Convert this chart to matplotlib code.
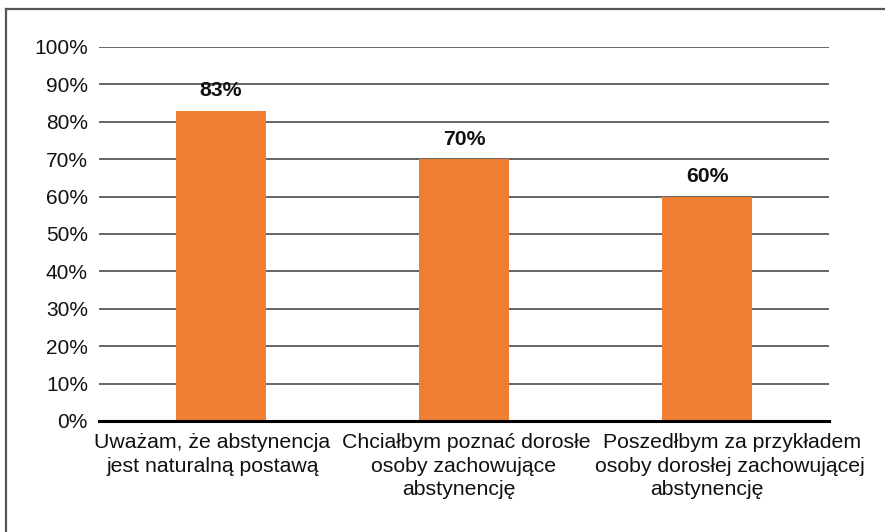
import matplotlib
matplotlib.use("Agg")
import matplotlib.pyplot as plt
from matplotlib.lines import Line2D
from matplotlib.ticker import FuncFormatter, MultipleLocator
from matplotlib.transforms import blended_transform_factory, offset_copy

categories = [
    ["Uważam, że abstynencja", "jest naturalną postawą"],
    ["Chciałbym poznać dorosłe", "osoby zachowujące", "abstynencję"],
    ["Poszedłbym za przykładem", "osoby dorosłej zachowującej", "abstynencję"],
]
values = [83, 70, 60]
value_labels = ["83%", "70%", "60%"]

plt.rcParams["font.family"] = ["Liberation Sans", "DejaVu Sans"]

fig = plt.figure(figsize=(8.85, 5.32), dpi=100)
ax = fig.add_axes([99 / 885, 1 - 421 / 532, 730 / 885, 374 / 532])

x = list(range(len(categories)))
bars = ax.bar(x, values, width=0.37, color="#EE7F33", zorder=3)

ax.set_xlim(-0.5, len(categories) - 0.5)
ax.set_ylim(0, 100)
ax.yaxis.set_major_locator(MultipleLocator(10))
ax.yaxis.set_major_formatter(FuncFormatter(lambda v, p: f"{int(round(v))}%"))
ax.grid(axis="y", color="#3a3a3a", linewidth=1.1, zorder=0)
ax.set_axisbelow(True)

for s in ["top", "right", "left"]:
    ax.spines[s].set_visible(False)
ax.spines["bottom"].set_color("black")
ax.spines["bottom"].set_linewidth(2.2)
ax.spines["bottom"].set_zorder(4)

ax.set_xticks(x)
ax.set_xticklabels([])
ax.tick_params(axis="x", length=0)
ax.tick_params(axis="y", length=0, pad=8, labelsize=15, labelcolor="#111111")

# wrapped category labels, one text per line, nudged sideways like the
# word-wrapped axis labels of a spreadsheet chart
line_shift_px = [[-9, -8], [2, 0, -5], [25, 23, 0]]
base = blended_transform_factory(ax.transData, ax.transAxes)
for xi, lines, shifts in zip(x, categories, line_shift_px):
    for i, (line, dx) in enumerate(zip(lines, shifts)):
        tr = offset_copy(base, fig=fig, x=dx, y=-(12 + 23.5 * i), units="dots")
        ax.text(xi, 0, line, transform=tr, ha="center", va="top",
                fontsize=15.3, color="#111111", clip_on=False)

for b, v, lab in zip(bars, values, value_labels):
    ax.annotate(lab, (b.get_x() + b.get_width() / 2, v), xytext=(0, 7.5),
                textcoords="offset points", ha="center", va="bottom",
                fontsize=15.3, fontweight="bold", color="#111111")

# outer frame
fig.add_artist(Line2D([5.5 / 885, 5.5 / 885], [0, 1 - 9 / 532],
                      transform=fig.transFigure, color="#555555", linewidth=1.6))
fig.add_artist(Line2D([5.5 / 885, 1], [1 - 9 / 532, 1 - 9 / 532],
                      transform=fig.transFigure, color="#555555", linewidth=1.6))

fig.savefig("out.png", dpi=100)
